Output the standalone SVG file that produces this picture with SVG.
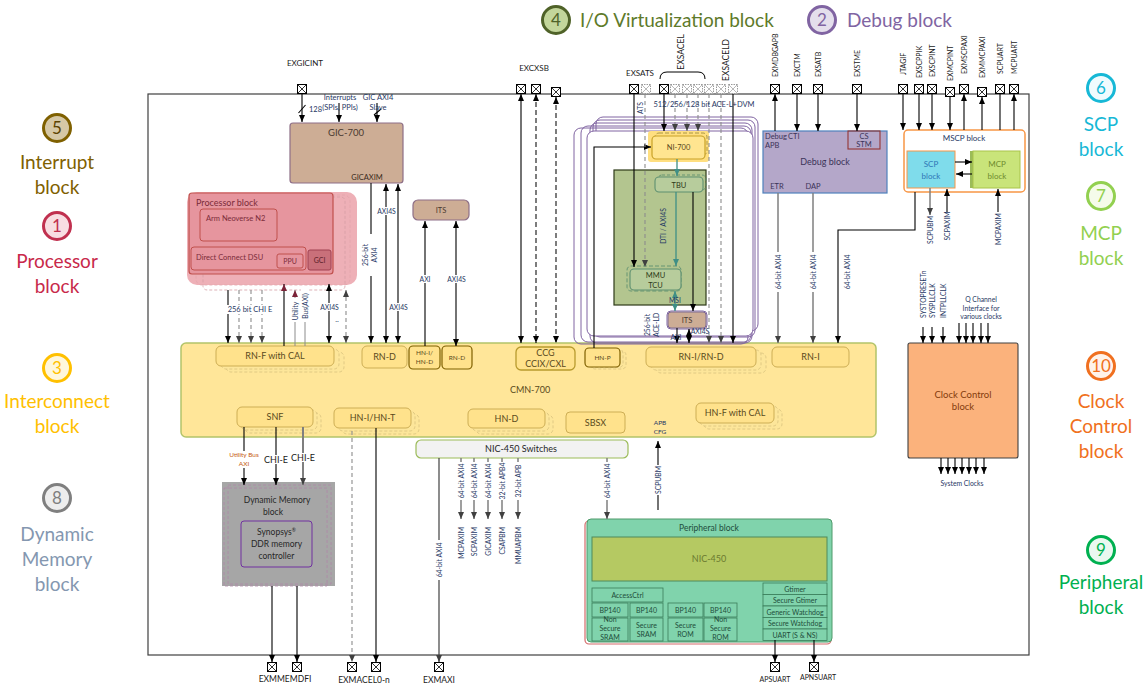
<svg xmlns="http://www.w3.org/2000/svg" width="1148" height="686" viewBox="0 0 1148 686">
<defs>
<style>
text{font-family:Lato,"Liberation Sans","DejaVu Sans",sans-serif}
.lg{font-size:19px;text-anchor:middle}
.num{font-size:17px;text-anchor:middle}
.m{text-anchor:middle}
.s{font-size:7.5px;fill:#1F3864}
.s6{font-size:6.8px;fill:#1F3864}
.pl{font-size:8px;fill:#1a1a1a}
.nd{font-size:9px;fill:#5A4A1C;text-anchor:middle}
.nds{font-size:6.5px;fill:#5A4A1C;text-anchor:middle}
.k{stroke:#000;stroke-width:1.1;fill:none}
.g{stroke:#7F7F7F;stroke-width:1.5;fill:none}
.gt{stroke:#8C8C8C;stroke-width:1;fill:none}
.d{stroke:#8C8C8C;stroke-width:1.1;stroke-dasharray:4 3;fill:none}
.dk{stroke:#262626;stroke-width:1.2;stroke-dasharray:5 3;fill:none}
.te{stroke:#3F8F86;stroke-width:1.3;fill:none}
.sub{fill:#FFE28C;stroke:#CDAE55;stroke-width:1}
.subd{fill:#FFE28C;stroke:#7F6000;stroke-width:1.2}
.sh{fill:#FDE69A;stroke:#D8C27E;stroke-width:0.8;stroke-dasharray:3 2}
.pu{fill:none;stroke:#8064A2;stroke-width:1}
.pe{fill:#80D3AC;stroke:#3A7D5A;stroke-width:0.8}
.pt{font-size:7px;fill:#1E4D3A;text-anchor:middle}
.wb{fill:#fff}
.ak{marker-end:url(#ak)}
.akb{marker-start:url(#ak);marker-end:url(#ak)}
.agm{marker-end:url(#ag)}
.agb{marker-start:url(#ag);marker-end:url(#ag)}
.pv{font-size:7px;fill:#1a1a1a}
</style>
<marker id="ak" viewBox="0 0 8 8" refX="8" refY="4" markerWidth="7" markerHeight="7" markerUnits="userSpaceOnUse" orient="auto-start-reverse"><path d="M0,0.6L8,4L0,7.4z" fill="#000"/></marker>
<marker id="ag" viewBox="0 0 8 8" refX="8" refY="4" markerWidth="7" markerHeight="7" markerUnits="userSpaceOnUse" orient="auto-start-reverse"><path d="M0,0.6L8,4L0,7.4z" fill="#404040"/></marker>
<marker id="at" viewBox="0 0 8 8" refX="8" refY="4" markerWidth="7" markerHeight="7" markerUnits="userSpaceOnUse" orient="auto-start-reverse"><path d="M0,0.6L8,4L0,7.4z" fill="#3F8F86"/></marker>
<marker id="am" viewBox="0 0 8 8" refX="8" refY="4" markerWidth="7" markerHeight="7" markerUnits="userSpaceOnUse" orient="auto-start-reverse"><path d="M0,0.6L8,4L0,7.4z" fill="#7B2338"/></marker>
<g id="pin"><rect x="-4.5" y="-4.5" width="9" height="9" fill="#fff" stroke="#000" stroke-width="1"/><path d="M-4.5,-4.5L4.5,4.5M4.5,-4.5L-4.5,4.5" stroke="#000" stroke-width="0.8"/></g>
<g id="pind"><rect x="-4.5" y="-4.5" width="9" height="9" fill="#fff" stroke="#9A9A9A" stroke-width="1" stroke-dasharray="1.5 1"/><path d="M-4.5,-4.5L4.5,4.5M4.5,-4.5L-4.5,4.5" stroke="#9A9A9A" stroke-width="0.7"/></g>
</defs>

<rect width="1148" height="686" fill="#fff"/>

<!-- legends -->
<g id="legend-interrupt">
<circle cx="57" cy="128" r="13.5" fill="#D6C8A6" stroke="#7F6000" stroke-width="3"/>
<text x="57" y="134" class="num" fill="#5C4300">5</text>
<text x="57" y="169" class="lg" fill="#7F6000">Interrupt</text>
<text x="57" y="194" class="lg" fill="#7F6000">block</text>
</g>
<g id="legend-processor">
<circle cx="57" cy="226" r="13.5" fill="#F8DDE2" stroke="#C0304F" stroke-width="3"/>
<text x="57" y="232" class="num" fill="#C0304F">1</text>
<text x="57" y="268" class="lg" fill="#C8294A">Processor</text>
<text x="57" y="293" class="lg" fill="#C8294A">block</text>
</g>
<g id="legend-interconnect">
<circle cx="57" cy="368" r="13.5" fill="#FFF7DC" stroke="#FFC000" stroke-width="3"/>
<text x="57" y="374" class="num" fill="#FFC000">3</text>
<text x="57" y="408" class="lg" fill="#FFC000">Interconnect</text>
<text x="57" y="433" class="lg" fill="#FFC000">block</text>
</g>
<g id="legend-dynmem">
<circle cx="57" cy="498" r="13.5" fill="#EDEDED" stroke="#7F7F7F" stroke-width="3"/>
<text x="57" y="504" class="num" fill="#7F7F7F">8</text>
<text x="57" y="541" class="lg" fill="#8497B0">Dynamic</text>
<text x="57" y="566" class="lg" fill="#8497B0">Memory</text>
<text x="57" y="591" class="lg" fill="#8497B0">block</text>
</g>
<g id="legend-scp">
<circle cx="1101" cy="88" r="13.5" fill="#F0FBFE" stroke="#17B8D6" stroke-width="3"/>
<text x="1101" y="94" class="num" fill="#17B8D6">6</text>
<text x="1101" y="131" class="lg" fill="#17B8D6">SCP</text>
<text x="1101" y="156" class="lg" fill="#17B8D6">block</text>
</g>
<g id="legend-mcp">
<circle cx="1101" cy="196" r="13.5" fill="#F5FBEA" stroke="#92D050" stroke-width="3"/>
<text x="1101" y="202" class="num" fill="#92D050">7</text>
<text x="1101" y="240" class="lg" fill="#92D050">MCP</text>
<text x="1101" y="265" class="lg" fill="#92D050">block</text>
</g>
<g id="legend-clock">
<circle cx="1101" cy="366" r="13.5" fill="#FFF3EA" stroke="#F07020" stroke-width="3"/>
<text x="1101" y="372" class="num" fill="#F07020">10</text>
<text x="1101" y="408" class="lg" fill="#F07020">Clock</text>
<text x="1101" y="433" class="lg" fill="#F07020">Control</text>
<text x="1101" y="458" class="lg" fill="#F07020">block</text>
</g>
<g id="legend-peripheral">
<circle cx="1101" cy="550" r="13.5" fill="#EAF8F0" stroke="#00B050" stroke-width="3"/>
<text x="1101" y="556" class="num" fill="#00B050">9</text>
<text x="1101" y="589" class="lg" fill="#00B050">Peripheral</text>
<text x="1101" y="614" class="lg" fill="#00B050">block</text>
</g>
<g id="legend-io">
<circle cx="556" cy="20" r="13.5" fill="#C3D69B" stroke="#4F6228" stroke-width="3"/>
<text x="556" y="26" class="num" fill="#4F6228">4</text>
<text x="580" y="27" font-size="19" fill="#5E7A2A">I/O Virtualization block</text>
</g>
<g id="legend-debug">
<circle cx="822" cy="20" r="13.5" fill="#E4DFEC" stroke="#8064A2" stroke-width="3"/>
<text x="822" y="26" class="num" fill="#8064A2">2</text>
<text x="847" y="27" font-size="19" fill="#8064A2">Debug block</text>
</g>

<!-- SoC frame -->
<rect id="soc-frame" x="148" y="94" width="881" height="561" fill="none" stroke="#404040" stroke-width="1.2"/>

<!-- GIC -->
<g id="gic700">
<rect x="290" y="123" width="113" height="60" rx="3" fill="#CDAD95" stroke="#8E6F87" stroke-width="1.2"/>
<text x="346" y="136" class="m" font-size="9.5" fill="#4A3A30">GIC-700</text>
<text x="367" y="180" class="m" font-size="7.5" fill="#3A2A20">GICAXIM</text>
</g>
<g id="its-top">
<rect x="413" y="200" width="56" height="20" rx="5" fill="#CDAD95" stroke="#8E6F87" stroke-width="1.2"/>
<text x="441" y="213" class="m" font-size="7.5" fill="#4A3A30">ITS</text>
</g>

<!-- Processor -->
<g id="processor-block">
<rect x="187" y="192" width="170" height="93" rx="10" fill="#EEB0B7"/>
<rect x="203" y="197" width="142" height="93" rx="4" fill="none" stroke="#D4A0A4" stroke-width="0.8" stroke-dasharray="3 2"/>
<rect x="196" y="195" width="154" height="90" rx="6" fill="none" stroke="#E2A6AC" stroke-width="0.8" stroke-dasharray="3 2"/>
<rect x="189" y="193" width="144" height="81" rx="3" fill="#E6959E" stroke="#C0504D" stroke-width="1.2"/>
<text x="196" y="206" font-size="9" fill="#7B2C3A">Processor block</text>
<rect x="200" y="209" width="77" height="32" rx="3" fill="#E6959E" stroke="#C0504D" stroke-width="1"/>
<text x="206" y="221" font-size="7.5" fill="#7B2C3A">Arm Neoverse N2</text>
<rect x="191" y="247" width="115" height="23" rx="3" fill="#E6959E" stroke="#C0504D" stroke-width="1"/>
<text x="196" y="260" font-size="7.5" fill="#7B2C3A">Direct Connect DSU</text>
<rect x="277" y="254" width="26" height="14" rx="2" fill="#E6959E" stroke="#C0504D" stroke-width="1"/>
<text x="290" y="264" class="m" font-size="7" fill="#7B2C3A">PPU</text>
<rect x="308" y="250" width="23" height="20" rx="2" fill="#C9707A" stroke="#A04050" stroke-width="1"/>
<text x="319.5" y="263" class="m" font-size="7" fill="#5A1E28">GCI</text>
</g>

<!-- CMN-700 -->
<g id="cmn700">
<rect x="181" y="343" width="695" height="94" rx="5" fill="#FFE699" stroke="#B3C46A" stroke-width="1.5"/>
<text x="530" y="393" class="m" font-size="9" fill="#5A4A1C">CMN-700</text>
<text x="660" y="425" class="m" font-size="6.5" fill="#1F3864">APB</text>
<text x="660" y="434" class="m" font-size="6.5" fill="#1F3864">CFG</text>
</g>
<g id="rnf-cal">
<rect x="226" y="352" width="118" height="20" rx="5" class="sh"/>
<rect x="221" y="349" width="118" height="20" rx="5" class="sh"/>
<rect x="216" y="346" width="118" height="20" rx="5" class="sub"/>
<text x="275" y="359" class="nd">RN-F with CAL</text>
</g>
<g id="rn-d1"><rect x="362" y="346" width="45" height="22" rx="5" class="sub"/><text x="384.5" y="360" class="nd">RN-D</text></g>
<g id="hni-hnd"><rect x="409" y="346" width="31" height="23" rx="4" class="subd"/><text x="424.5" y="355" class="nds">HN-I/</text><text x="424.5" y="364" class="nds">HN-D</text></g>
<g id="rn-d2"><rect x="442" y="346" width="30" height="23" rx="4" class="subd"/><text x="457" y="360" class="nds">RN-D</text></g>
<g id="ccg"><rect x="516" y="347" width="59" height="23" rx="5" fill="#FFE28C" stroke="#B89B2E" stroke-width="1.3"/><text x="545.5" y="356" class="nd" font-size="8.5">CCG</text><text x="545.5" y="367" class="nd" font-size="8.5">CCIX/CXL</text></g>
<g id="hn-p"><rect x="591" y="351" width="35" height="18" rx="4" class="sh"/><rect x="588" y="349.5" width="35" height="18" rx="4" class="sh"/><rect x="585" y="348" width="35" height="19" rx="4" class="subd"/><text x="602.5" y="360" class="nds">HN-P</text></g>
<g id="rni-rnd"><rect x="656" y="353" width="110" height="20" rx="5" class="sh"/><rect x="651" y="350" width="110" height="20" rx="5" class="sh"/><rect x="646" y="347" width="110" height="20" rx="5" class="sub"/><text x="701" y="360" class="nd">RN-I/RN-D</text></g>
<g id="rn-i"><rect x="772" y="347" width="77" height="20" rx="5" class="sub"/><text x="810.5" y="360" class="nd">RN-I</text></g>
<g id="snf"><rect x="245" y="413" width="76" height="20" rx="5" class="sh"/><rect x="241" y="410" width="76" height="20" rx="5" class="sh"/><rect x="237" y="407" width="76" height="20" rx="5" class="sub"/><text x="275" y="420" class="nd">SNF</text></g>
<g id="hni-hnt"><rect x="342" y="414" width="77" height="20" rx="5" class="sh"/><rect x="338" y="411" width="77" height="20" rx="5" class="sh"/><rect x="334" y="408" width="77" height="20" rx="5" class="sub"/><text x="372.5" y="421" class="nd">HN-I/HN-T</text></g>
<g id="hn-d"><rect x="476" y="415" width="77" height="19" rx="5" class="sh"/><rect x="472" y="412" width="77" height="19" rx="5" class="sh"/><rect x="468" y="409" width="77" height="19" rx="5" class="sub"/><text x="506.5" y="422" class="nd">HN-D</text></g>
<g id="sbsx"><rect x="566" y="412" width="59" height="21" rx="4" class="sub"/><text x="595.5" y="426" class="nd">SBSX</text></g>
<g id="hnf-cal"><rect x="704" y="409" width="78" height="20" rx="5" class="sh"/><rect x="700" y="406" width="78" height="20" rx="5" class="sh"/><rect x="696" y="403" width="78" height="20" rx="5" class="sub"/><text x="735" y="416" class="nd">HN-F with CAL</text></g>

<!-- I/O virtualization -->
<g id="io-virtualization">
<rect x="596" y="117" width="162" height="214" rx="7" class="pu"/>
<rect x="593" y="120" width="162" height="217" rx="7" class="pu"/>
<rect x="590" y="123" width="162" height="220" rx="7" class="pu"/>
<rect x="574" y="128" width="174" height="216" rx="7" class="pu"/>
<rect x="581" y="126" width="170" height="216" rx="7" class="pu"/>
<rect x="587" y="131" width="166" height="205" rx="7" fill="#fff" stroke="#8064A2" stroke-width="1"/>
<g id="smmu">
<rect x="614" y="170" width="92" height="135" fill="#B3C58F" stroke="#2D3A18" stroke-width="1.2"/>
</g>
<g id="ni700">
<rect x="648" y="131" width="61" height="31" rx="3" fill="#FFDF80"/>
<rect x="655" y="133" width="52" height="22" rx="4" fill="none" stroke="#A09040" stroke-width="0.9" stroke-dasharray="4 2"/>
<rect x="652" y="136" width="53" height="23" rx="4" fill="#FFE590" stroke="#C9A227" stroke-width="1.2"/>
<text x="678.5" y="150" class="m" font-size="7.5" fill="#5A4A1C">NI-700</text>
</g>
<g id="tbu">
<rect x="658" y="175" width="48" height="15" rx="4" fill="none" stroke="#5E9070" stroke-width="0.9" stroke-dasharray="3 2"/>
<rect x="655" y="177" width="48" height="15" rx="4" fill="#B7CC9C" stroke="#5E9070" stroke-width="1.1"/>
<text x="679" y="187.5" class="m" font-size="7.5" fill="#2D3A18">TBU</text>
</g>
<g id="mmu-tcu">
<rect x="627" y="266" width="54" height="25" rx="4" fill="none" stroke="#5E9070" stroke-width="0.9" stroke-dasharray="4 2"/>
<rect x="630" y="269" width="51" height="21" rx="4" fill="#B7CC9C" stroke="#5E9070" stroke-width="1.1"/>
<text x="655.5" y="278" class="m" font-size="7.5" fill="#2D3A18">MMU</text>
<text x="655.5" y="287.5" class="m" font-size="7.5" fill="#2D3A18">TCU</text>
</g>
<g id="its-io">
<rect x="667" y="311" width="40" height="18" rx="4" fill="none" stroke="#8064A2" stroke-width="1"/>
<rect x="668" y="312" width="38" height="16" rx="3" fill="#CDAD95" stroke="#7F6A8F" stroke-width="1"/>
<text x="687" y="323" class="m" font-size="7.5" fill="#4A3A30">ITS</text>
</g>
</g>

<!-- Debug -->
<g id="debug-block">
<rect x="763" y="131" width="124" height="62" fill="#B4A7C9" stroke="#4F81BD" stroke-width="1.2"/>
<rect x="848" y="131" width="32" height="18" fill="none" stroke="#943634" stroke-width="1.1"/>
<text x="765" y="139" font-size="7.5" fill="#3B3358">Debug</text>
<text x="788" y="139" font-size="7.5" fill="#3B3358">CTI</text>
<text x="765" y="148" font-size="7.5" fill="#3B3358">APB</text>
<text x="825" y="165" class="m" font-size="9" fill="#3B3358">Debug block</text>
<text x="777" y="189" class="m" font-size="7.5" fill="#3B3358">ETR</text>
<text x="813" y="189" class="m" font-size="7.5" fill="#3B3358">DAP</text>
<text x="864" y="138.5" class="m" font-size="7.5" fill="#3B3358">CS</text>
<text x="864" y="147" class="m" font-size="7.5" fill="#3B3358">STM</text>
</g>

<!-- MSCP -->
<g id="mscp-block">
<rect x="904" y="130" width="121" height="62" rx="4" fill="#fff" stroke="#F79646" stroke-width="1.5"/>
<text x="964" y="141" class="m" font-size="8" fill="#1F3864">MSCP block</text>
</g>
<g id="scp-block">
<rect x="907" y="151" width="48" height="37" fill="#7FDCEB" stroke="#F79646" stroke-width="1"/>
<text x="931" y="167" class="m" font-size="8" fill="#2E75B6">SCP</text>
<text x="931" y="179" class="m" font-size="8" fill="#2E75B6">block</text>
</g>
<g id="mcp-block">
<rect x="970" y="151" width="5" height="37" fill="#9BBB59"/>
<rect x="973" y="151" width="47" height="37" fill="#C9E47A" stroke="#A9C44A" stroke-width="1"/>
<text x="997" y="167" class="m" font-size="8" fill="#6E8B2E">MCP</text>
<text x="997" y="179" class="m" font-size="8" fill="#6E8B2E">block</text>
</g>

<!-- Clock control -->
<g id="clock-control">
<rect x="908" y="343" width="110" height="115" rx="2" fill="#FBB27C" stroke="#404040" stroke-width="1.1"/>
<text x="963" y="398" class="m" font-size="9.5" fill="#843C0C">Clock Control</text>
<text x="963" y="410" class="m" font-size="9.5" fill="#843C0C">block</text>
</g>

<!-- Dynamic memory -->
<g id="dynamic-memory">
<rect x="222" y="482" width="113" height="104" fill="#A6A6A6"/>
<rect x="228" y="485" width="103" height="99" fill="none" stroke="#B088A8" stroke-width="0.8" stroke-dasharray="3 2"/>
<rect x="224" y="488" width="103" height="98" fill="none" stroke="#B088A8" stroke-width="0.8" stroke-dasharray="3 2"/>
<text x="277" y="503" class="m" font-size="8.5" fill="#262626">Dynamic Memory</text>
<text x="273" y="515" class="m" font-size="8.5" fill="#262626">block</text>
<rect x="241" y="521" width="71" height="46" rx="3" fill="#A6A6A6" stroke="#7030A0" stroke-width="1"/>
<text x="276.5" y="535" class="m" font-size="8.5" fill="#262626">Synopsys<tspan font-size="5" dy="-3">®</tspan></text>
<text x="276.5" y="547" class="m" font-size="8.5" fill="#262626">DDR memory</text>
<text x="276.5" y="559" class="m" font-size="8.5" fill="#262626">controller</text>
</g>

<!-- NIC switches -->
<g id="nic450-switches">
<rect x="416" y="440" width="212" height="18" rx="5" fill="#F2F2F2" stroke="#9BBB59" stroke-width="1.2"/>
<text x="521" y="452" class="m" font-size="9" fill="#262626">NIC-450 Switches</text>
</g>

<!-- Peripheral -->
<g id="peripheral-block">
<rect x="585" y="521" width="246" height="123" rx="4" fill="none" stroke="#D46A6A" stroke-width="1.2"/>
<rect x="587" y="519" width="245" height="123" rx="4" fill="#80D3AC" stroke="#4E9A6A" stroke-width="1"/>
<text x="709" y="531" class="m" font-size="8.5" fill="#1F4E3D">Peripheral block</text>
<rect x="592" y="537" width="235" height="44" fill="#B5C962" stroke="#4E8A5A" stroke-width="1"/>
<text x="709" y="562" class="m" font-size="9" fill="#6B7A30">NIC-450</text>
<rect x="592" y="588" width="71" height="14" class="pe"/><text x="627.5" y="598" class="pt">AccessCtrl</text>
<rect x="592" y="603" width="36" height="14" class="pe"/><text x="610" y="613" class="pt">BP140</text>
<rect x="630" y="603" width="33" height="14" class="pe"/><text x="646.5" y="613" class="pt">BP140</text>
<rect x="668" y="603" width="35" height="14" class="pe"/><text x="685.5" y="613" class="pt">BP140</text>
<rect x="704" y="603" width="33" height="14" class="pe"/><text x="720.5" y="613" class="pt">BP140</text>
<rect x="592" y="618" width="36" height="23" class="pe"/><text x="610" y="622" class="pt">Non</text><text x="610" y="630.5" class="pt">Secure</text><text x="610" y="639.5" class="pt">SRAM</text>
<rect x="630" y="618" width="33" height="23" class="pe"/><text x="646.5" y="628" class="pt">Secure</text><text x="646.5" y="637" class="pt">SRAM</text>
<rect x="668" y="618" width="35" height="23" class="pe"/><text x="685.5" y="628" class="pt">Secure</text><text x="685.5" y="637" class="pt">ROM</text>
<rect x="704" y="618" width="33" height="23" class="pe"/><text x="720.5" y="622" class="pt">Non</text><text x="720.5" y="630.5" class="pt">Secure</text><text x="720.5" y="639.5" class="pt">ROM</text>
<rect x="763" y="583" width="64" height="11.5" class="pe"/><text x="795" y="591.5" class="pt" font-size="6.5">Gtimer</text>
<rect x="763" y="594.5" width="64" height="11.5" class="pe"/><text x="795" y="603" class="pt" font-size="6.5">Secure Gtimer</text>
<rect x="763" y="606" width="64" height="11.5" class="pe"/><text x="795" y="614.5" class="pt" font-size="6.5">Generic Watchdog</text>
<rect x="763" y="617.5" width="64" height="11.5" class="pe"/><text x="795" y="626" class="pt" font-size="6.5">Secure Watchdog</text>
<rect x="763" y="629" width="64" height="11.5" class="pe"/><text x="795" y="637.5" class="pt" font-size="6.5">UART (S &amp; NS)</text>
</g>

<!-- connectors -->
<g id="connectors">
<path class="k ak" d="M302,94V122"/>
<path class="k ak" d="M339,103V122"/>
<path class="k ak" d="M377,103V122"/>
<path class="k" d="M298.5,113L305.5,105"/>
<path class="k" d="M374,115L381,109"/>
<path class="k ak" d="M371,183V343"/>
<path class="k akb" d="M386,184V343"/>
<path class="k akb" d="M398,184V343"/>
<path class="k ak" d="M425,346V221"/>
<path class="k akb" d="M456,221V346"/>
<path class="k ak" d="M228,290V343"/>
<path class="d agm" d="M239,290V343"/>
<path class="d agm" d="M251,290V343"/>
<path class="d agm" d="M262,290V343"/>
<path class="k" d="M284,346V284" marker-end="url(#am)"/>
<path class="gt" d="M295,346V290" marker-end="url(#am)"/>
<path class="gt" d="M305,346V293"/>
<path class="k akb" d="M329,284V343"/>
<path class="d agb" d="M346,290V343"/>
<path class="k akb" d="M521,94V343"/>
<path class="dk akb" d="M536,94V343"/>
<path class="dk akb" d="M556,97V343"/>
<path class="k ak" d="M594,348V147H651"/>
<path class="k ak" d="M634,94V267"/>
<path class="d agm" d="M645,94V267"/>
<path class="k ak" d="M664,94V131"/>
<path class="d agm" d="M675,94V131"/>
<path class="d agm" d="M687,94V131"/>
<path class="d agm" d="M698,94V131"/>
<path class="d agm" d="M709,94V343"/>
<path class="d agm" d="M721,94V343"/>
<path class="k ak" d="M733,94V343"/>
<path class="te" d="M677,159V176" marker-end="url(#at)"/>
<path class="te" d="M676,192V266" marker-end="url(#at)"/>
<path class="k ak" d="M693,192V311"/>
<path class="te" d="M675,291V311" marker-start="url(#at)" marker-end="url(#at)"/>
<path class="k ak" d="M677,328V343"/>
<path class="k akb" d="M689,329V343"/>
<path class="k ak" d="M775,131V94"/>
<path class="k ak" d="M797,94V131"/>
<path class="k ak" d="M818,94V131"/>
<path class="k ak" d="M857,94V131"/>
<path class="g agm" d="M778,193V343"/>
<path class="g agm" d="M813,193V343"/>
<path class="k ak" d="M915,192V230H838V343"/>
<path class="k ak" d="M903,94V130"/>
<path class="k ak" d="M919,94V130"/>
<path class="k ak" d="M932,94V130"/>
<path class="k ak" d="M950,97V130"/>
<path class="k ak" d="M964,130V94"/>
<path class="k ak" d="M982,130V97"/>
<path class="k" d="M1000,130V94"/>
<path class="k ak" d="M1014,130V94"/>
<path class="k ak" d="M955,162H972"/>
<path class="k ak" d="M972,174H956"/>
<path class="g agm" d="M930,188V215"/>
<path class="k ak" d="M947,212V189"/>
<path class="k ak" d="M998,212V189"/>
<path class="k ak" d="M923,327V343"/>
<path class="k ak" d="M932,327V343"/>
<path class="k ak" d="M943,327V343"/>
<path class="k ak" d="M959,323V343"/>
<path class="k ak" d="M966,323V343"/>
<path class="k ak" d="M973,323V343"/>
<path class="k ak" d="M981,323V343"/>
<path class="k ak" d="M988,323V343"/>
<path class="k ak" d="M941,458V474"/>
<path class="k ak" d="M948,458V474"/>
<path class="k ak" d="M955,458V474"/>
<path class="k ak" d="M962,458V474"/>
<path class="k ak" d="M969,458V474"/>
<path class="k ak" d="M976,458V474"/>
<path class="k ak" d="M984,458V474"/>
<path class="k ak" d="M244,427V485"/>
<path class="k ak" d="M276,427V485"/>
<path class="agm" d="M303,427V485" stroke="#7F7F7F" stroke-width="2" fill="none"/>
<path class="k ak" d="M272,586V662"/>
<path class="k ak" d="M297,586V662"/>
<path class="d agm" d="M352,431V662"/>
<path class="k ak" d="M376,428V662"/>
<path class="agm" d="M439,458V662" stroke="#404040" stroke-width="1.2" fill="none"/>
<path class="g agm" d="M461,458V519"/>
<path class="g agm" d="M474,458V519"/>
<path class="g agm" d="M488,458V519"/>
<path class="g agm" d="M502,458V519"/>
<path class="g agm" d="M518,458V519"/>
<path class="g agm" d="M607,458V519"/>
<path class="k ak" d="M658,510V441"/>
<path class="k ak" d="M775,640V662"/>
<path class="k ak" d="M814,640V662"/>

<text x="309" y="112" class="s">128</text>
<text x="340" y="100" class="s m">Interrupts</text>
<text x="340" y="110" class="s m">(SPIs, PPIs)</text>
<text x="378" y="100" class="s m">GIC AXI4</text>
<text x="378" y="110" class="s m">Slave</text>
<rect x="360" y="234" width="19" height="42" class="wb"/>
<text class="s6 m" transform="translate(367.5,255) rotate(-90)">256-bit</text>
<text class="s6 m" transform="translate(376.5,255) rotate(-90)">AXI4</text>
<rect x="376" y="207" width="21" height="8" class="wb"/><text x="386.5" y="213.5" class="s6 m">AXI4S</text>
<rect x="388" y="303" width="21" height="8" class="wb"/><text x="398.5" y="309.5" class="s6 m">AXI4S</text>
<rect x="419" y="275" width="12" height="8" class="wb"/><text x="425" y="281.5" class="s6 m">AXI</text>
<rect x="446" y="275" width="21" height="8" class="wb"/><text x="456.5" y="281.5" class="s6 m">AXI4S</text>
<rect x="221" y="305" width="58" height="9" class="wb"/><text x="250" y="312" class="s m">256 bit CHI E</text>
<rect x="291" y="298" width="8" height="24" class="wb"/>
<rect x="301" y="289" width="8" height="33" class="wb"/>
<text class="s6 m" transform="translate(297.5,311) rotate(-90)">Utility</text>
<text class="s6 m" transform="translate(307.5,306) rotate(-90)">Bus(AXI)</text>
<rect x="319" y="303" width="21" height="8" class="wb"/><text x="329.5" y="309.5" class="s6 m">AXI4S</text>
<text x="337" y="322" class="s m">..</text>
<text x="704" y="107" class="s m">512/256/128 bit ACE-L+DVM</text>
<text class="s6 m" transform="translate(643,108) rotate(-90)">ATS</text>
<text class="s6 m" transform="translate(665.5,226) rotate(-90)">DTI / AXI4S</text>
<text x="675" y="303" class="s6 m">MSI</text>
<text class="s6 m" transform="translate(650,325) rotate(-90)">256-bit</text>
<text class="s6 m" transform="translate(658.5,325) rotate(-90)">ACE-LD</text>
<text x="676" y="340" class="s6 m" font-size="6">AXI</text>
<text x="700" y="334" class="s6 m" font-size="6">AXI4S</text>
<rect x="774" y="252" width="8" height="40" class="wb"/>
<rect x="809" y="252" width="8" height="40" class="wb"/>
<text class="s6 m" transform="translate(780.5,272) rotate(-90)">64-bit AXI4</text>
<text class="s6 m" transform="translate(815.5,272) rotate(-90)">64-bit AXI4</text>
<text class="s6 m" transform="translate(849.5,272) rotate(-90)">64-bit AXI4</text>
<text class="s6 m" transform="translate(932.5,230) rotate(-90)" fill="#403152">SCPUBM</text>
<text class="s6 m" transform="translate(949.5,226) rotate(-90)" fill="#403152">SCPAXIM</text>
<text class="s6 m" transform="translate(1000.5,229) rotate(-90)" fill="#403152">MCPAXIM</text>
<text class="s6" transform="translate(925.5,318) rotate(-90)">SYSTOPRESETn</text>
<text class="s6" transform="translate(934.5,318) rotate(-90)">SYSPLLCLK</text>
<text class="s6" transform="translate(945.5,318) rotate(-90)">INTPLLCLK</text>
<text x="981" y="302" class="s6 m">Q Channel</text>
<text x="981" y="310.5" class="s6 m">Interface for</text>
<text x="981" y="319" class="s6 m">various clocks</text>
<text x="962" y="486" class="s6 m">System Clocks</text>
<rect x="230" y="451" width="28" height="17" class="wb"/>
<text x="244" y="457" class="m" font-size="6.5" fill="#C55A11">Utility Bus</text>
<text x="244" y="466" class="m" font-size="6.5" fill="#C55A11">AXI</text>
<rect x="264" y="455" width="24" height="9" class="wb"/><text x="276" y="463" class="m" font-size="9" fill="#1a1a1a">CHI-E</text>
<rect x="291" y="453" width="24" height="9" class="wb"/><text x="303" y="461" class="m" font-size="9" fill="#1a1a1a">CHI-E</text>
<rect x="435" y="540" width="8" height="40" class="wb"/>
<text class="s6 m" transform="translate(441.5,560) rotate(-90)">64-bit AXI4</text>
<rect x="457" y="462" width="66" height="38" class="wb"/>
<text class="s6 m" transform="translate(463.5,481) rotate(-90)">64-bit AXI4</text>
<text class="s6 m" transform="translate(476.5,481) rotate(-90)">64-bit AXI4</text>
<text class="s6 m" transform="translate(490.5,481) rotate(-90)">64-bit AXI4</text>
<text class="s6 m" transform="translate(504.5,481) rotate(-90)">32-bit APB4</text>
<text class="s6 m" transform="translate(520.5,481) rotate(-90)">32-bit APB</text>
<text class="s6" text-anchor="end" transform="translate(463.5,527) rotate(-90)" fill="#403152">MCPAXIM</text>
<text class="s6" text-anchor="end" transform="translate(476.5,527) rotate(-90)" fill="#403152">SCPAXIM</text>
<text class="s6" text-anchor="end" transform="translate(490.5,527) rotate(-90)" fill="#403152">GICAXIM</text>
<text class="s6" text-anchor="end" transform="translate(504.5,527) rotate(-90)" fill="#403152">CSAPBM</text>
<text class="s6" text-anchor="end" transform="translate(520.5,527) rotate(-90)" fill="#403152">MMUAPBM</text>
<rect x="603" y="462" width="8" height="38" class="wb"/>
<text class="s6 m" transform="translate(609.5,481) rotate(-90)">64-bit AXI4</text>
<rect x="654" y="465" width="8" height="30" class="wb"/>
<text class="s6 m" transform="translate(660.5,480) rotate(-90)" fill="#403152">SCPUBM</text>
</g>

<!-- pins -->
<g id="pins">
<use href="#pin" x="302" y="89"/>
<use href="#pin" x="521" y="89"/>
<use href="#pin" x="536" y="89"/>
<use href="#pin" x="556" y="92"/>
<use href="#pin" x="634" y="89"/>
<use href="#pind" x="646" y="89"/>
<use href="#pin" x="664" y="89"/>
<use href="#pind" x="675" y="89"/>
<use href="#pind" x="687" y="89"/>
<use href="#pind" x="698" y="89"/>
<use href="#pind" x="709" y="89"/>
<use href="#pind" x="721" y="89"/>
<use href="#pind" x="733" y="89"/>
<use href="#pin" x="775" y="89"/>
<use href="#pin" x="797" y="89"/>
<use href="#pin" x="818" y="89"/>
<use href="#pin" x="857" y="89"/>
<use href="#pin" x="903" y="89"/>
<use href="#pin" x="919" y="89"/>
<use href="#pin" x="932" y="89"/>
<use href="#pin" x="950" y="92"/>
<use href="#pin" x="964" y="89"/>
<use href="#pin" x="982" y="92"/>
<use href="#pin" x="1000" y="89"/>
<use href="#pin" x="1014" y="89"/>
<use href="#pin" x="272" y="667"/>
<use href="#pin" x="297" y="667"/>
<use href="#pin" x="352" y="667"/>
<use href="#pin" x="376" y="667"/>
<use href="#pin" x="439" y="667"/>
<use href="#pin" x="775" y="667"/>
<use href="#pin" x="814" y="667"/>
<text x="305" y="66" class="pl m">EXGICINT</text>
<text x="534" y="71" class="pl m">EXCXSB</text>
<text x="640" y="76" class="pl m">EXSATS</text>
<path d="M660,79Q660,72 667,72H698Q705,72 705,79" fill="none" stroke="#000" stroke-width="1"/>
<text class="m" font-size="8.5" fill="#1a1a1a" transform="translate(684,52) rotate(-90)">EXSACEL</text>
<text class="m" font-size="8.5" fill="#1a1a1a" transform="translate(729,60) rotate(-90)">EXSACELD</text>
<text class="pv" transform="translate(777.5,77) rotate(-90)">EXMDBGAPB</text>
<text class="pv" transform="translate(799.5,77) rotate(-90)">EXCTM</text>
<text class="pv" transform="translate(820.5,77) rotate(-90)">EXSATB</text>
<text class="pv" transform="translate(859.5,77) rotate(-90)">EXSTME</text>
<text class="pv" transform="translate(905.5,75) rotate(-90)">JTAGIF</text>
<text class="pv" transform="translate(921.5,78) rotate(-90)">EXSCPPIK</text>
<text class="pv" transform="translate(934.5,77) rotate(-90)">EXSCPINT</text>
<text class="pv" transform="translate(952.5,81) rotate(-90)">EXMCPINT</text>
<text class="pv" transform="translate(966.5,74) rotate(-90)">EXMSCPAXI</text>
<text class="pv" transform="translate(984.5,78) rotate(-90)">EXMMCPAXI</text>
<text class="pv" transform="translate(1002.5,74) rotate(-90)">SCPUART</text>
<text class="pv" transform="translate(1016.5,74) rotate(-90)">MCPUART</text>
<text x="285" y="682" class="m" font-size="8.5" fill="#1a1a1a">EXMMEMDFI</text>
<text x="364" y="683" class="m" font-size="8.5" fill="#1a1a1a">EXMACEL0-n</text>
<text x="439" y="683" class="m" font-size="8.5" fill="#1a1a1a">EXMAXI</text>
<text x="775" y="682" class="m" font-size="7" fill="#1a1a1a">APSUART</text>
<text x="818" y="680" class="m" font-size="7" fill="#1a1a1a">APNSUART</text>
</g>
</svg>
